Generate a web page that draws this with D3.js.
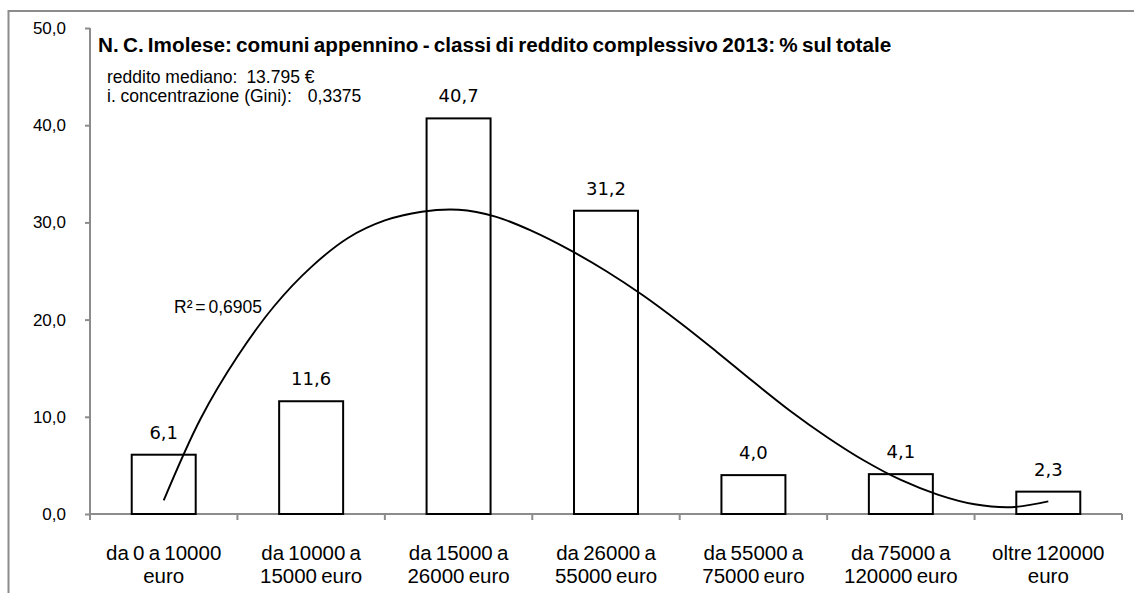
<!DOCTYPE html>
<html>
<head>
<meta charset="utf-8">
<script src="https://cdn.jsdelivr.net/npm/d3@7"></script>
<style>
  body { margin: 0; background: #fff; }
  svg { display: block; }
</style>
</head>
<body>
<script>
var width = 1134,
    height = 593;

// data
var categories = [
    ["da 0 a 10000", "euro"],
    ["da 10000 a", "15000 euro"],
    ["da 15000 a", "26000 euro"],
    ["da 26000 a", "55000 euro"],
    ["da 55000 a", "75000 euro"],
    ["da 75000 a", "120000 euro"],
    ["oltre 120000", "euro"]
];
var shares = [6.1, 11.6, 40.7, 31.2, 4.0, 4.1, 2.3];

// polynomial trend line, position in category units (0 = first centre)
var trendPos = [0, 0.25, 0.5, 0.75, 1, 1.25, 1.5, 1.75, 2, 2.25, 2.5, 2.75, 3, 3.25, 3.5, 3.75,
                4, 4.25, 4.5, 4.75, 5, 5.25, 5.5, 5.75, 6];
var trendVal = [1.4, 9.8, 16.2, 21.4, 25.4, 28.4, 30.2, 31.1, 31.3, 30.6, 29.1, 27.2, 25.0, 22.5,
                19.7, 16.7, 13.6, 10.6, 7.9, 5.5, 3.5, 2.0, 1.0, 0.7, 1.3];

var yTicks = [0, 10, 20, 30, 40, 50];
var title = "N. C. Imolese: comuni appennino - classi di reddito complessivo 2013: % sul totale";
var notes = [["reddito mediano:", "13.795 \u20ac"], ["i. concentrazione (Gini):", "0,3375"]];
var r2Label = "R\u00b2 = 0,6905";
// end data

var plotLeft = 90, plotRight = 1122,
    plotTop = 28, plotBottom = 514;

var x = d3.scaleBand().domain(d3.range(categories.length))
    .range([plotLeft, plotRight]).paddingInner(0.566).paddingOuter(0.283);
var xBand = d3.scaleBand().domain(d3.range(categories.length)).range([plotLeft, plotRight]);
var xPos = d3.scaleLinear().domain([0, categories.length - 1])
    .range([xBand(0) + xBand.bandwidth() / 2, xBand(categories.length - 1) + xBand.bandwidth() / 2]);
var y = d3.scaleLinear().domain([0, 50]).range([plotBottom, plotTop]);

var fmt = function(v) { return d3.format(".1f")(v).replace(".", ","); };

var svg = d3.select("body").append("svg")
    .attr("width", width)
    .attr("height", height);

// outer frame (right and bottom edges fall outside the picture)
svg.append("rect")
    .attr("x", 8.5).attr("y", 11)
    .attr("width", width + 20).attr("height", height + 20)
    .attr("fill", "#fff")
    .attr("stroke", "#8c8c8c")
    .attr("stroke-width", 2);

// y axis
var yAxis = svg.append("g")
    .attr("transform", "translate(" + plotLeft + ",0)")
    .call(d3.axisLeft(y).tickValues(yTicks).tickSize(5).tickPadding(19).tickFormat(fmt));
yAxis.select(".domain").attr("stroke", "#8c8c8c").attr("stroke-width", 2).attr("d", "M0," + plotTop + "V" + plotBottom);
yAxis.selectAll(".tick line").attr("stroke", "#8c8c8c").attr("stroke-width", 2);
yAxis.selectAll(".tick text")
    .attr("fill", "#000")
    .style("font-family", "'Liberation Sans', Arial, sans-serif")
    .style("font-size", "17px");

// x axis line and boundary ticks
var gx = svg.append("g");
gx.append("line")
    .attr("x1", plotLeft).attr("x2", plotRight)
    .attr("y1", plotBottom).attr("y2", plotBottom)
    .attr("stroke", "#8c8c8c").attr("stroke-width", 2);
gx.selectAll(".xtick")
    .data(d3.range(categories.length + 1))
    .join("line")
    .attr("class", "xtick")
    .attr("x1", function(d) { return plotLeft + d * xBand.bandwidth(); })
    .attr("x2", function(d) { return plotLeft + d * xBand.bandwidth(); })
    .attr("y1", plotBottom).attr("y2", plotBottom + 6)
    .attr("stroke", "#8c8c8c").attr("stroke-width", 2);

// category labels
var catLabels = svg.append("g").selectAll("text")
    .data(categories)
    .join("text")
    .attr("text-anchor", "middle")
    .style("font-family", "'Liberation Sans', Arial, sans-serif")
    .style("font-size", "20.5px")
    .style("word-spacing", "-1.5px")
    .attr("fill", "#000");
catLabels.each(function(d, i) {
    var t = d3.select(this);
    d.forEach(function(line, j) {
        t.append("tspan")
            .attr("x", xPos(i))
            .attr("y", 560 + j * 23)
            .text(line);
    });
});

// bars
svg.append("g").selectAll("rect")
    .data(shares)
    .join("rect")
    .attr("x", function(d, i) { return x(i); })
    .attr("y", function(d) { return y(d); })
    .attr("width", x.bandwidth())
    .attr("height", function(d) { return plotBottom - y(d); })
    .attr("fill", "#fff")
    .attr("stroke", "#000")
    .attr("stroke-width", 2);

// bar value labels
svg.append("g").selectAll("text")
    .data(shares)
    .join("text")
    .attr("x", function(d, i) { return xPos(i); })
    .attr("y", function(d) { return y(d) - 16; })
    .attr("text-anchor", "middle")
    .style("font-family", "'DejaVu Sans', sans-serif")
    .style("font-size", "18px")
    .attr("fill", "#000")
    .text(fmt);

// trend line
var trend = d3.line()
    .x(function(d) { return xPos(d[0]); })
    .y(function(d) { return y(d[1]); })
    .curve(d3.curveCatmullRom);
svg.append("path")
    .datum(d3.zip(trendPos, trendVal))
    .attr("d", trend)
    .attr("fill", "none")
    .attr("stroke", "#000")
    .attr("stroke-width", 1.9);

svg.append("text")
    .attr("x", 174).attr("y", 313)
    .style("font-family", "'Liberation Sans', Arial, sans-serif")
    .style("font-size", "17.5px")
    .style("word-spacing", "-2px")
    .text(r2Label);

// title and notes
svg.append("text")
    .attr("x", 98).attr("y", 52)
    .style("font-family", "'Liberation Sans', Arial, sans-serif")
    .style("font-size", "20.7px")
    .style("font-weight", "bold")
    .style("word-spacing", "-1.5px")
    .text(title);

var noteText = svg.append("g").selectAll("text")
    .data(notes)
    .join("text")
    .attr("y", function(d, i) { return 83 + i * 19; })
    .style("font-family", "'Liberation Sans', Arial, sans-serif")
    .style("font-size", "17.5px");
noteText.append("tspan")
    .attr("x", 107)
    .text(function(d) { return d[0]; });
noteText.append("tspan")
    .attr("dx", function(d, i) { return i === 0 ? 9 : 16; })
    .text(function(d) { return d[1]; });
</script>
</body>
</html>
